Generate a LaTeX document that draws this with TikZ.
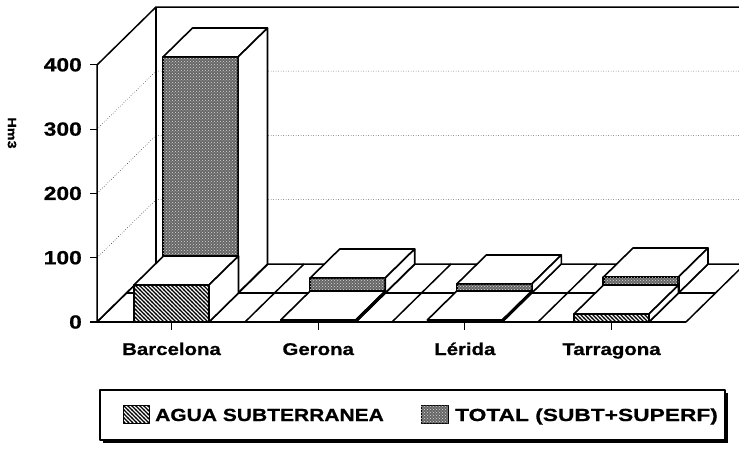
\documentclass[tikz,border=0pt]{standalone}
\usepackage{fontspec}
\setmainfont{Liberation Sans}
\newfontfamily\lblfont{Liberation Sans}[FakeStretch=1.2, BoldFeatures={FakeBold=0.8}]
\newfontfamily\widefont{Liberation Sans}[FakeStretch=1.3, BoldFeatures={FakeBold=0.8}]
\usetikzlibrary{patterns}
\pgfdeclarepatternformonly{densenw}{\pgfqpoint{-1pt}{-1pt}}{\pgfqpoint{5pt}{5pt}}{\pgfqpoint{4pt}{4pt}}{%
  \pgfsetlinewidth{1.1pt}%
  \pgfpathmoveto{\pgfqpoint{-0.2pt}{4.2pt}}%
  \pgfpathlineto{\pgfqpoint{4.2pt}{-0.2pt}}%
  \pgfusepath{stroke}}
\tikzset{
  wall/.style={line width=1.5pt},
  gridl/.style={line width=0.5pt, dotted},
  floorl/.style={line width=1.5pt},
  facel/.style={line width=1.6pt, fill=white},
  aguaface/.style={line width=2.2pt, fill=white, postaction={pattern=densenw, pattern color=black}},
  totalface/.style={line width=2.2pt, fill=black!60, postaction={pattern=crosshatch dots, pattern color=white!85!black}},
  flatface/.style={line width=1.6pt, fill=black},
  lbl/.style={font=\lblfont\bfseries\fontsize{17}{17}\selectfont, inner sep=0pt},
  numlbl/.style={font=\lblfont\bfseries\fontsize{19}{19}\selectfont, inner sep=0pt},
  leglbl/.style={font=\lblfont\bfseries\fontsize{17.5}{17.5}\selectfont, inner sep=0pt},
  leglblw/.style={font=\widefont\bfseries\fontsize{17.5}{17.5}\selectfont, inner sep=0pt},
  tick/.style={line width=1.2pt}
}
% #1 left x, #2 bottom y, #3 height, #4 front-face style
\newcommand{\barbox}[4]{%
  \draw[facel] (#1,#2-#3) -- (#1+75,#2-#3) -- (#1+75+29.5,#2-#3-29) -- (#1+29.5,#2-#3-29) -- cycle;
  \draw[facel] (#1+75,#2) -- (#1+75,#2-#3) -- (#1+75+29.5,#2-#3-29) -- (#1+75+29.5,#2-29) -- cycle;
  \draw[#4] (#1,#2) rectangle (#1+75,#2-#3);
}
\begin{document}
\begin{tikzpicture}[x=1pt,y=-1pt,line join=round]
\useasboundingbox (0,0) rectangle (739,450);
% walls
\draw[wall] (97,322) -- (97,65) -- (156,7) -- (760,7);
\draw[wall] (156,7) -- (156,264);
\draw[wall] (97,322) -- (156,264) -- (760,264);
% grid lines
\foreach \k in {1,2,3} {
  \draw[gridl] (97,322-64.3*\k) -- (156,264-64.3*\k) -- (760,264-64.3*\k);
}
% floor
\draw[floorl] (90,322) -- (686,322);
\draw[floorl] (126.5,293) -- (715.5,293);
\foreach \x in {97,134,209,245,281,356,392,428,502,538,574,649,686} {
  \draw[floorl] (\x,322) -- (\x+59,264);
}
% y ticks
\foreach \k in {1,2,3,4} {
  \draw[tick] (90,322-64.3*\k) -- (97,322-64.3*\k);
}
% x ticks
\foreach \c in {171.5,318.2,464.8,611.5} {
  \draw[tick] (\c,322) -- (\c,330);
}
% back row (TOTAL)
\barbox{163}{293}{236}{totalface}
\barbox{310.2}{293}{15}{totalface}
\barbox{456.8}{293}{9}{totalface}
\barbox{603.5}{293}{16}{totalface}
% front row (AGUA SUBTERRANEA)
\barbox{134}{322}{37}{aguaface}
\barbox{280.7}{322}{2}{flatface}
\barbox{427.3}{322}{2}{flatface}
\barbox{574}{322}{8}{aguaface}
% y labels
\node[numlbl, anchor=east] (y0) at (82,322) {0};
\node[numlbl, anchor=east] (y100) at (82,257.7) {100};
\node[numlbl, anchor=east] (y200) at (82,193.4) {200};
\node[numlbl, anchor=east] (y300) at (82,129.1) {300};
\node[numlbl, anchor=east] (y400) at (82,64.8) {400};
\node[font=\lblfont\bfseries\fontsize{12}{12}\selectfont, rotate=-90, inner sep=0pt] (unit) at (12,133) {Hm3};
% category labels
\node[lbl, anchor=base] (cb) at (171.5,355) {Barcelona};
\node[lbl, anchor=base] (cg) at (318.2,355) {Gerona};
\node[lbl, anchor=base] (cl) at (464.8,355) {Lérida};
\node[lbl, anchor=base] (ct) at (611.5,355) {Tarragona};
% legend
\fill (103,393) rectangle (728,443);
\draw[line width=1.2pt, fill=white] (100,390) rectangle (725,440);
\draw[aguaface, line width=1pt] (123,405) rectangle (149,423);
\node[leglbl, anchor=base west] (la) at (155,421) {AGUA SUBTERRANEA};
\draw[totalface, line width=1pt] (421,405) rectangle (448,423);
\node[leglblw, anchor=base west] (lt) at (455,421) {TOTAL (SUBT+SUPERF)};
\end{tikzpicture}
\end{document}
